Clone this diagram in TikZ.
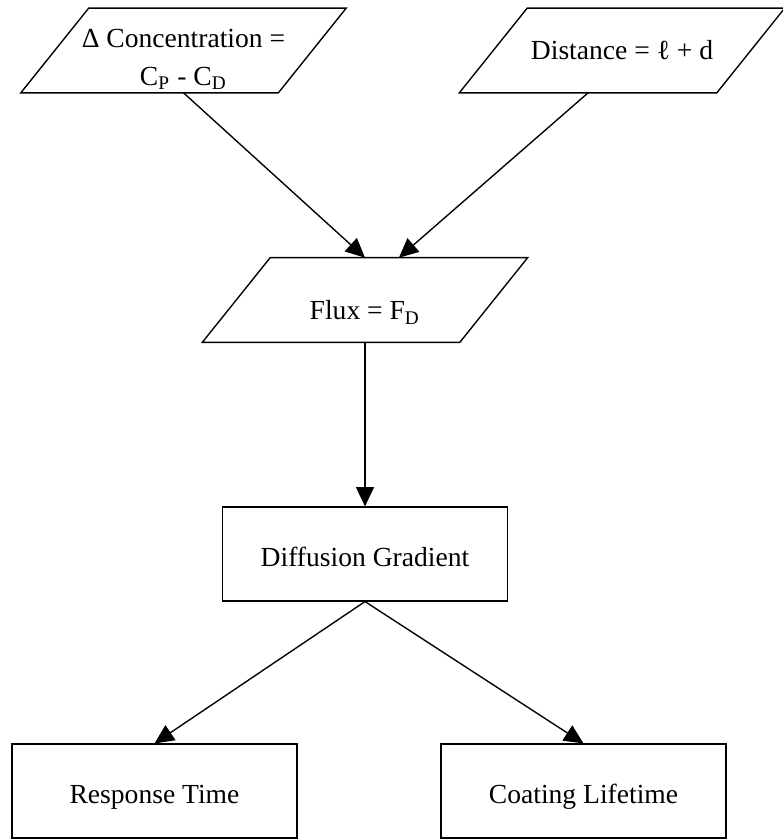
\documentclass[tikz,border=0pt]{standalone}
\usepackage{fontspec}
\setmainfont{Liberation Serif}
\usetikzlibrary{arrows.meta}
\newcommand{\pslant}{12.3pt}

\begin{document}
\begin{tikzpicture}[
        x=0.3627pt, y=-0.3627pt,
        font=\fontsize{10pt}{12pt}\selectfont,
        inbox/.style={minimum width=92.9pt, minimum height=30.2pt, inner sep=2pt, align=center},
        stepbox/.style={draw, rectangle, minimum width=103.4pt, minimum height=34pt,
                        text height=11.5pt, text depth=2.2pt},
        arrow/.style={-{Triangle[length=7pt, width=6.5pt]}},
        line width=0.5pt,
    ]
        \useasboundingbox (0,0) rectangle (783,839);

        %--- Entradas ---
        \node[inbox, inner ysep=0pt, text height=27.6pt, text depth=2pt] (conc) at (183.5,50.5)
            {Δ Concentration =\\[2pt] C\textsubscript{P} - C\textsubscript{D}};
        \node[inbox] (dist) at (622,50.5) {Distance = ℓ + d};

        %--- Flujo ---
        \node[inbox, text height=16.5pt, text depth=2pt] (flux) at (365,300) {Flux = F\textsubscript{D}};

        % paralelogramos
        \foreach \n in {conc,dist,flux}
            \draw ([xshift=\pslant]\n.north west) -- ([xshift=\pslant]\n.north east)
               -- ([xshift=-\pslant]\n.south east) -- ([xshift=-\pslant]\n.south west) -- cycle;

        \draw[arrow] (conc.south) -- (flux.north);
        \draw[arrow] ([xshift=-\pslant]dist.south) -- ([xshift=\pslant]flux.north);

        %--- Gradiente ---
        \node[stepbox] (diff) at (365,554) {Diffusion Gradient};
        \draw[arrow] (flux) -- (diff);

        %--- Resultados ---
        \node[stepbox] (resp) at (154.5,791) {Response Time};
        \node[stepbox] (coat) at (583.5,791) {Coating Lifetime};

        \draw[arrow] (diff.south) -- (resp.north);
        \draw[arrow] (diff.south) -- (coat.north);
    \end{tikzpicture}
\end{document}
